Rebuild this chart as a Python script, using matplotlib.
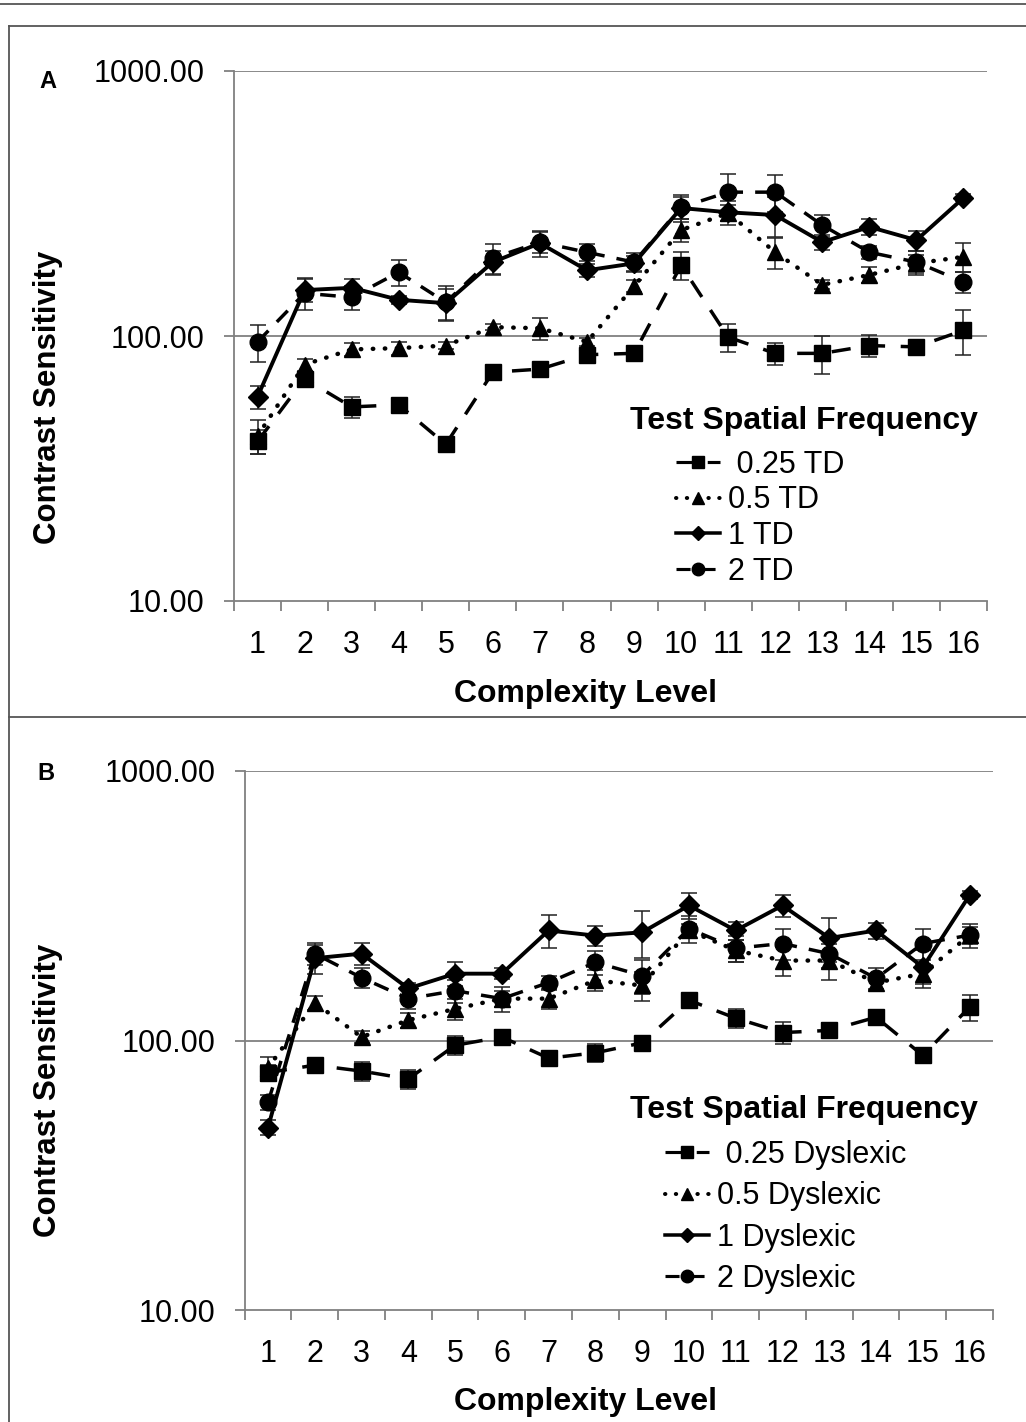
import matplotlib
matplotlib.use("Agg")
import matplotlib.pyplot as plt
from matplotlib.lines import Line2D
import numpy as np

plt.rcParams['font.family'] = ['Liberation Sans', 'DejaVu Sans']

levels = list(range(1, 17))
ytick_vals = [10, 100, 1000]
ytick_labels = ["10.00", "100.00", "1000.00"]

# Panel A (TD)
a_labels = [" 0.25 TD", "0.5 TD", "1 TD", "2 TD"]
a_025 = [40, 69, 54, 55, 39, 73, 75, 85, 86, 185, 99, 86, 86, 92, 91, 105]
a_025_err = [4, 4, 5, 2, 1, 2, 4, 4, 5, 22, 12, 8, 14, 9, 5, 20]
a_05 = [42, 78, 89, 90, 92, 108, 107, 95, 154, 251, 291, 207, 156, 170, 188, 199]
a_05_err = [6, 4, 5, 5, 3, 3, 10, 3, 8, 25, 20, 28, 6, 12, 15, 25]
a_1 = [59, 149, 152, 137, 133, 190, 224, 177, 188, 304, 293, 286, 226, 258, 230, 332]
a_1_err = [6, 15, 12, 5, 18, 20, 25, 10, 12, 35, 30, 50, 15, 18, 20, 10]
a_2 = [95, 145, 140, 174, 134, 197, 226, 207, 190, 306, 349, 349, 262, 207, 190, 160]
a_2_err = [15, 20, 15, 20, 20, 25, 20, 15, 15, 30, 60, 55, 25, 12, 20, 15]

# Panel B (Dyslexic)
b_labels = [" 0.25 Dyslexic", "0.5 Dyslexic", "1 Dyslexic", "2 Dyslexic"]
b_025 = [76, 81, 77, 72, 96, 103, 86, 90, 98, 141, 121, 107, 109, 122, 88, 133]
b_025_err = [5, 3, 6, 6, 8, 6, 3, 7, 5, 6, 10, 10, 7, 8, 4, 15]
b_05 = [79, 138, 103, 119, 131, 143, 143, 167, 160, 256, 216, 198, 198, 164, 177, 246]
b_05_err = [8, 8, 5, 8, 12, 10, 12, 15, 20, 15, 20, 25, 30, 10, 15, 18]
b_1 = [47.5, 202, 210, 156, 177, 177, 256, 245, 252, 317, 256, 317, 240, 256, 187, 346]
b_1_err = [3, 25, 20, 8, 18, 8, 35, 20, 50, 35, 20, 30, 45, 18, 30, 12]
b_2 = [59, 210, 171, 143, 153, 143, 164, 195, 174, 260, 220, 229, 210, 170, 229, 246]
b_2_err = [4, 20, 15, 12, 15, 15, 10, 20, 25, 30, 25, 30, 25, 15, 30, 25]

styles = [
    dict(marker='s', ms=11, ls=(0, (5.5, 4.5)), lw=2.5),
    dict(marker='^', ms=12, ls=(0, (0.1, 2.6)), lw=3.2, dash_capstyle='round'),
    dict(marker='D', ms=10, ls='-', lw=2.8),
    dict(marker='o', ms=12, ls=(0, (4.5, 3.5)), lw=2.5),
]

W, H = 1026, 1422
fig = plt.figure(figsize=(W / 100, H / 100), dpi=100)

def fx(px):
    return px / W

def fy(py):
    return 1 - py / H

GRAY = '#808080'
TICK_FS = 22
LABEL_FS = 22.5

def make_panel(rect, series, errs, labels, ylab_y, xlab_y, leg_title_y, leg_anchor, spacing):
    ax = fig.add_axes(rect)
    ax.set_yscale('log')
    ax.set_xlim(0.5, 16.5)
    ax.set_ylim(10, 1000)
    handles = []
    for vals, err, st, lab in zip(series, errs, styles, labels):
        ax.errorbar(levels, vals, yerr=err, fmt='none', ecolor='#222222',
                    elinewidth=1.1, capsize=5.5, capthick=1.1, zorder=3)
        kw = dict(st)
        ax.plot(levels, vals, color='black', marker=kw.pop('marker'),
                markersize=kw.pop('ms'), linestyle=kw.pop('ls'),
                linewidth=kw.pop('lw'), zorder=4, **kw)
        h = Line2D([], [], color='black', marker=st['marker'],
                   markersize=st['ms'] * 0.75, linestyle=st['ls'],
                   linewidth=st['lw'] * 0.9,
                   dash_capstyle=st.get('dash_capstyle', 'butt'))
        handles.append(h)
    for v in [100, 1000]:
        ax.axhline(v, color=GRAY, lw=1.3, zorder=1)
    for s in ['top', 'right']:
        ax.spines[s].set_visible(False)
    for s in ['left', 'bottom']:
        ax.spines[s].set_color(GRAY)
        ax.spines[s].set_linewidth(1.3)
    ax.set_yticks(ytick_vals)
    ax.set_yticklabels(ytick_labels)
    ax.yaxis.set_minor_locator(matplotlib.ticker.NullLocator())
    ax.tick_params(axis='y', which='major', length=7, width=1.3, color=GRAY,
                   pad=14, labelsize=TICK_FS)
    ax.set_xticks(levels)
    ax.set_xticklabels([str(l) for l in levels])
    ax.set_xticks(np.arange(0.5, 17, 1.0), minor=True)
    ax.tick_params(axis='x', which='major', length=0, pad=21, labelsize=TICK_FS)
    ax.tick_params(axis='x', which='minor', length=7, width=1.3, color=GRAY)
    fig.text(fx(48), fy(ylab_y), "Contrast Sensitivity", rotation=90,
             ha='center', va='center', fontsize=LABEL_FS, fontweight='bold')
    fig.text(fx(585), fy(xlab_y), "Complexity Level", ha='center', va='center',
             fontsize=LABEL_FS + 0.5, fontweight='bold')
    fig.text(fx(630), fy(leg_title_y), "Test Spatial Frequency", ha='left',
             va='center', fontsize=LABEL_FS + 0.5, fontweight='bold')
    fig.legend(handles, labels, loc='upper left',
               bbox_to_anchor=(fx(leg_anchor[0]), fy(leg_anchor[1])),
               frameon=False, fontsize=TICK_FS, handlelength=1.45,
               handletextpad=0.25, labelspacing=spacing, borderpad=0,
               borderaxespad=0)
    return ax

axA = make_panel([fx(234), fy(601), fx(987 - 234), (601 - 71) / H],
                 [a_025, a_05, a_1, a_2],
                 [a_025_err, a_05_err, a_1_err, a_2_err],
                 a_labels, 397, 694, 421, (676, 450), 0.18)
axB = make_panel([fx(244.6), fy(1310), fx(993 - 244.6), (1310 - 771) / H],
                 [b_025, b_05, b_1, b_2],
                 [b_025_err, b_05_err, b_1_err, b_2_err],
                 b_labels, 1090, 1402, 1110, (665, 1140), 0.37)

fig.text(fx(48), fy(81), "A", ha='center', va='center', fontsize=17, fontweight='bold')
fig.text(fx(46), fy(774), "B", ha='center', va='center', fontsize=17, fontweight='bold')

frame_kw = dict(color='#555555', lw=1.3, transform=fig.transFigure)
fig.add_artist(Line2D([0, 1], [fy(4), fy(4)], **frame_kw))
fig.add_artist(Line2D([fx(9), 1], [fy(26), fy(26)], **frame_kw))
fig.add_artist(Line2D([fx(9), 1], [fy(717), fy(717)], **frame_kw))
fig.add_artist(Line2D([fx(9), fx(9)], [fy(26), 0], **frame_kw))

fig.savefig("out.png", dpi=100)
